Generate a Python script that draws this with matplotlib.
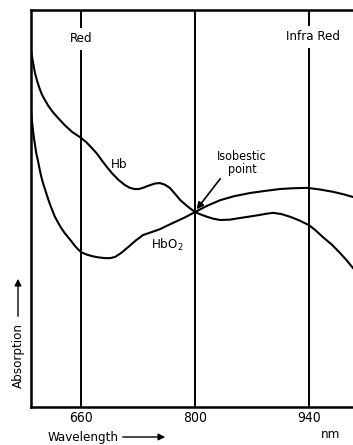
import matplotlib
matplotlib.use("Agg")
import matplotlib.pyplot as plt
from matplotlib.patches import FancyArrowPatch

# absorption curves (arbitrary units)
hb_nm = [598.6, 600.5, 603.5, 606, 609, 612, 615.8, 620, 625, 631.8, 640, 649,
         660, 667, 673.5, 680, 686, 692, 698, 706, 714, 720, 726, 731, 736, 741,
         745, 751, 757, 763, 769, 775, 782, 791, 800, 807, 815, 823, 831, 843,
         855, 868, 880, 888, 896, 906, 917, 928, 940, 948, 957, 968, 978, 986, 994]
hb_abs = [89.9, 87.5, 84.1, 82.2, 80.3, 78.7, 77.3, 75.8, 74.4, 72.8, 71.0, 69.3,
          67.8, 66.6, 65.2, 63.7, 62.0, 60.4, 58.9, 57.2, 55.9, 55.2, 54.9, 54.9, 55.2, 55.6,
          55.9, 56.3, 56.4, 56.0, 55.2, 53.8, 52.1, 50.5, 49.1, 48.5, 47.9, 47.4, 47.1, 47.2,
          47.6, 48.0, 48.4, 48.7, 48.9, 48.6, 47.9, 47.0, 45.8, 44.5, 42.8, 40.9, 38.8, 37.0, 35.0]

hbo2_nm = [598.6, 599.5, 601, 602.2, 603.5, 605, 607, 609, 611, 613.5, 616, 619,
           622, 625, 628, 632, 636, 640, 644, 648, 652, 656, 660, 667, 673.5, 681,
           689.5, 696, 702, 710, 718, 727, 736, 746, 757, 766, 775.5, 788, 800,
           815, 831, 848, 867.5, 885, 904, 920, 937.5, 953, 969.5, 982, 994]
hbo2_abs = [74.8, 72.5, 69.8, 67.8, 66.0, 64.0, 62.2, 60.1, 58.2, 56.3, 54.7, 52.8,
            51.0, 49.4, 47.9, 46.4, 45.0, 43.8, 42.8, 41.8, 40.7, 39.8, 39.0, 38.4, 38.0, 37.7,
            37.5, 37.5, 37.8, 38.9, 40.3, 41.9, 43.3, 44.0, 44.8, 45.7, 46.6, 47.8, 49.1,
            50.7, 52.1, 53.1, 53.9, 54.4, 54.9, 55.1, 55.2, 54.8, 54.2, 53.6, 52.9]

xticks = [660, 800, 940]
tick_labels = ["660", "800", "940"]

W, H = 353, 445
plt.rcParams["font.family"] = ["DejaVu Sans"]
plt.rcParams["font.stretch"] = "condensed"

fig = plt.figure(figsize=(W / 100, H / 100), dpi=100)
ax = fig.add_axes([31 / W, 38 / H, 1 - 31 / W, 397 / H])
ax.set_xlim(598.6, 994)
ax.set_ylim(0, 100)

for x in xticks:
    ax.axvline(x, color="black", lw=1.4, zorder=1)

ax.plot(hb_nm, hb_abs, color="black", lw=1.5, zorder=2)
ax.plot(hbo2_nm, hbo2_abs, color="black", lw=1.5, zorder=2)

box = dict(facecolor="white", edgecolor="none", pad=3)
ax.text(660, 92.7, "Red", ha="center", va="center", fontsize=9.5, bbox=box, zorder=3)
ax.text(945, 93.2, "Infra Red", ha="center", va="center", fontsize=9.5, bbox=box, zorder=3)
ax.text(707, 61, "Hb", ha="center", va="center", fontsize=9.5)
ax.text(766, 40.8, "HbO$_2$", ha="center", va="center", fontsize=9.5)
ax.text(858, 61.5, "Isobestic\npoint", ha="center", va="center", fontsize=9,
        linespacing=0.95)
ax.annotate("", xy=(802, 49.8), xytext=(831, 57.5),
            arrowprops=dict(arrowstyle="-|>", color="black", lw=1.2,
                            mutation_scale=10, shrinkA=0, shrinkB=0))

ax.set_xticks(xticks)
ax.set_xticklabels(tick_labels, fontsize=10)
ax.tick_params(axis="x", length=0, pad=3)
ax.set_yticks([])
for s in ["left", "bottom", "top"]:
    ax.spines[s].set_linewidth(1.8)
ax.spines["right"].set_visible(False)

# axis captions with arrows
fig.text(48 / W, 1 - 437 / H, "Wavelength", ha="left", va="center", fontsize=9.5)
fig.patches.append(FancyArrowPatch(
    (120 / W, 1 - 437 / H), (168 / W, 1 - 437 / H), transform=fig.transFigure,
    arrowstyle="-|>", mutation_scale=10, lw=1.0, color="black"))
fig.text(331 / W, 1 - 435 / H, "nm", ha="center", va="center", fontsize=9.5)
fig.text(18 / W, 1 - 355 / H, "Absorption", ha="center", va="center",
         rotation=90, fontsize=9.5)
fig.patches.append(FancyArrowPatch(
    (18 / W, 1 - 319 / H), (18 / W, 1 - 276 / H), transform=fig.transFigure,
    arrowstyle="-|>", mutation_scale=10, lw=1.0, color="black"))

fig.savefig("out.png", dpi=100)
